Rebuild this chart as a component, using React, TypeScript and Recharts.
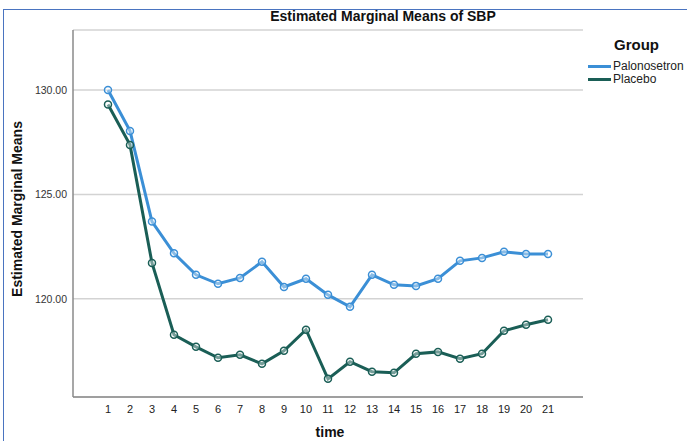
import { LineChart, Line, XAxis, YAxis, CartesianGrid } from 'recharts'

const times = [1, 2, 3, 4, 5, 6, 7, 8, 9, 10, 11, 12, 13, 14, 15, 16, 17, 18, 19, 20, 21]
const palonosetron = [130.0, 128.04, 123.7, 122.18, 121.15, 120.72, 121.0, 121.77, 120.57, 120.96, 120.19, 119.62, 121.15, 120.67, 120.62, 120.96, 121.82, 121.96, 122.25, 122.15, 122.15]
const placebo = [129.3, 127.37, 121.72, 118.28, 117.7, 117.18, 117.32, 116.89, 117.51, 118.52, 116.17, 116.99, 116.51, 116.46, 117.37, 117.46, 117.13, 117.37, 118.47, 118.76, 119.0]
const yTicks = [120, 125, 130]

const BLUE = '#3b8fd6'
const TEAL = '#1a5e56'
const FONT = '"Liberation Sans", Arial, sans-serif'

const data = times.map((t, i) => ({ time: t, palonosetron: palonosetron[i], placebo: placebo[i] }))

export default function App() {
  return (
    <div style={{ position: 'absolute', left: 0, top: 0, width: 687, height: 441, background: '#fff', fontFamily: FONT, overflow: 'hidden' }}>
      <div style={{ position: 'absolute', left: 3, top: 9, width: 700, height: 450, borderLeft: '1.5px solid #4a74c0', borderTop: '1.5px solid #4a74c0' }} />
      <div style={{ position: 'absolute', left: 283, width: 200, top: 8, textAlign: 'center', fontSize: 14, fontWeight: 'bold', color: '#111', whiteSpace: 'nowrap', display: 'flex', justifyContent: 'center' }}>
        Estimated Marginal Means of SBP
      </div>
      <LineChart width={687} height={441} data={data} margin={{ top: 30, right: 104, bottom: 14, left: 13 }}>
        <CartesianGrid horizontal vertical={false} stroke="#d3d3d3" strokeWidth={1.5} />
        <XAxis
          dataKey="time"
          type="number"
          domain={[-0.59, 22.59]}
          ticks={times}
          interval={0}
          height={30}
          tickLine={false}
          tickSize={4}
          tickMargin={4}
          axisLine={{ stroke: '#8a8a8a', strokeWidth: 1.5 }}
          tick={{ fontSize: 11, fill: '#222', fontFamily: FONT }}
        />
        <YAxis
          type="number"
          domain={[115.3, 132.87]}
          ticks={yTicks}
          width={60}
          tickLine={false}
          tickSize={4}
          tickMargin={2}
          tickFormatter={(v: number) => v.toFixed(2)}
          axisLine={{ stroke: '#8a8a8a', strokeWidth: 1.5 }}
          tick={{ fontSize: 10.5, fill: '#333', fontFamily: FONT }}
        />
        <Line
          dataKey="palonosetron"
          stroke={BLUE}
          strokeWidth={3}
          dot={{ r: 3.5, stroke: BLUE, strokeWidth: 1.5, fill: 'rgba(255,255,255,0.4)' }}
          isAnimationActive={false}
        />
        <Line
          dataKey="placebo"
          stroke={TEAL}
          strokeWidth={3}
          dot={{ r: 3.5, stroke: TEAL, strokeWidth: 1.5, fill: 'rgba(255,255,255,0.4)' }}
          isAnimationActive={false}
        />
      </LineChart>
      <div style={{ position: 'absolute', left: 0, top: 209, transform: 'translate(-50%, -50%) rotate(-90deg)', marginLeft: 17, fontSize: 14, fontWeight: 'bold', whiteSpace: 'nowrap', color: '#111' }}>
        Estimated Marginal Means
      </div>
      <div style={{ position: 'absolute', left: 300, width: 60, top: 424, textAlign: 'center', fontSize: 14, fontWeight: 'bold', color: '#111' }}>
        time
      </div>
      <div style={{ position: 'absolute', left: 614, top: 36, fontSize: 15, fontWeight: 'bold', color: '#111' }}>Group</div>
      <div style={{ position: 'absolute', left: 588, top: 60, fontSize: 12, color: '#222', lineHeight: '13px' }}>
        <div style={{ display: 'flex', alignItems: 'center' }}>
          <span style={{ display: 'inline-block', width: 23, height: 3, background: BLUE, marginRight: 2 }} />
          Palonosetron
        </div>
        <div style={{ display: 'flex', alignItems: 'center' }}>
          <span style={{ display: 'inline-block', width: 23, height: 3, background: TEAL, marginRight: 2 }} />
          Placebo
        </div>
      </div>
    </div>
  )
}
